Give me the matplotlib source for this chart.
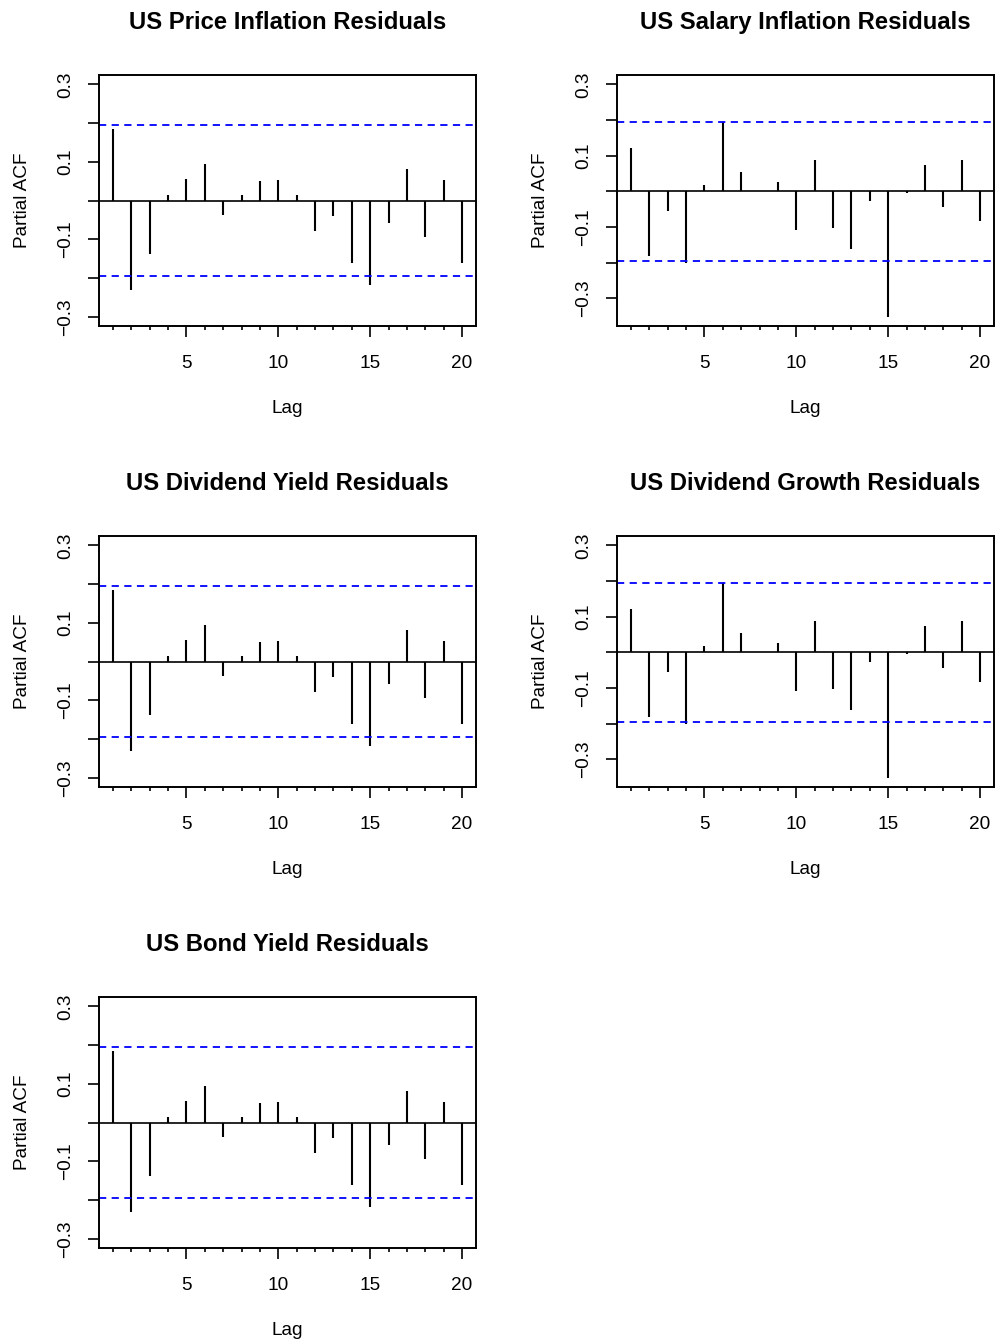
import matplotlib
matplotlib.use("Agg")
import matplotlib.pyplot as plt
import numpy as np

plt.rcParams['font.family'] = ['Liberation Sans', 'DejaVu Sans']

lags = list(range(1, 21))

titles = ["US Price Inflation Residuals", "US Salary Inflation Residuals",
          "US Dividend Yield Residuals", "US Dividend Growth Residuals",
          "US Bond Yield Residuals"]

pacf_price = [0.185, -0.232, -0.138, 0.015, 0.055, 0.094, -0.037, 0.014, 0.050, 0.053,
              0.015, -0.080, -0.041, -0.161, -0.217, -0.057, 0.082, -0.093, 0.054, -0.161]
pacf_salary = [0.122, -0.180, -0.054, -0.201, 0.017, 0.194, 0.055, 0.002, 0.026, -0.108,
               0.087, -0.103, -0.160, -0.027, -0.351, -0.004, 0.075, -0.044, 0.089, -0.083]
pacf_div_yield = [0.185, -0.232, -0.138, 0.015, 0.055, 0.094, -0.037, 0.014, 0.050, 0.053,
                  0.015, -0.080, -0.041, -0.161, -0.217, -0.057, 0.082, -0.093, 0.054, -0.161]
pacf_div_growth = [0.122, -0.180, -0.054, -0.201, 0.017, 0.194, 0.055, 0.002, 0.026, -0.108,
                   0.087, -0.103, -0.160, -0.027, -0.351, -0.004, 0.075, -0.044, 0.089, -0.083]
pacf_bond = [0.185, -0.232, -0.138, 0.015, 0.055, 0.094, -0.037, 0.014, 0.050, 0.053,
             0.015, -0.080, -0.041, -0.161, -0.217, -0.057, 0.082, -0.093, 0.054, -0.161]

conf_limits = [0.196, 0.194, 0.196, 0.194, 0.196]
series = [pacf_price, pacf_salary, pacf_div_yield, pacf_div_growth, pacf_bond]

W, H = 997, 1342
fig = plt.figure(figsize=(W / 100, H / 100), dpi=100)

# axes boxes in pixels: (left, top, right, bottom)
boxes = [(99, 75, 476, 326), (617, 75, 994, 326),
         (99, 536, 476, 787), (617, 536, 994, 787),
         (99, 997, 476, 1248)]

AX_FS = 13.7
TITLE_FS = 17.2

for (l, t, r, b), title, vals, conf in zip(boxes, titles, series, conf_limits):
    ax = fig.add_axes([l / W, 1 - b / H, (r - l) / W, (b - t) / H])
    x = np.array(lags)
    y = np.array(vals)
    ax.vlines(x, 0, y, color='black', lw=1.5)
    ax.axhline(0, color='black', lw=1.2)
    ax.axhline(conf, color='blue', lw=1.3, ls=(0, (4, 3)))
    ax.axhline(-conf, color='blue', lw=1.3, ls=(0, (4, 3)))

    x0, x1 = min(lags), max(lags)
    dx = (x1 - x0) * 0.04
    ax.set_xlim(x0 - dx, x1 + dx)
    y0 = min(-0.3, y.min(), -conf)
    y1 = max(0.3, y.max(), conf)
    dy = (y1 - y0) * 0.04
    ax.set_ylim(y0 - dy, y1 + dy)

    ax.set_xticks([5, 10, 15, 20])
    ax.set_xticks(lags, minor=True)
    ax.set_xticklabels(['5', '10', '15', '20'])
    yt = [-0.3, -0.2, -0.1, 0.0, 0.1, 0.2, 0.3]
    ax.set_yticks(yt)
    ax.set_yticklabels(['\u22120.3', '', '\u22120.1', '', '0.1', '', '0.3'])

    ax.tick_params(axis='x', which='major', length=8, width=1.2, pad=13,
                   labelsize=AX_FS, direction='out')
    ax.tick_params(axis='x', which='minor', length=3.2, width=1.2, direction='out')
    ax.tick_params(axis='y', which='major', length=8, width=1.2, pad=10,
                   labelsize=AX_FS, direction='out', labelrotation=90)
    for lab in ax.get_yticklabels():
        lab.set_va('center')

    for s in ax.spines.values():
        s.set_linewidth(1.4)

    ax.set_xlabel('Lag', fontsize=AX_FS, labelpad=20.3)
    ax.set_ylabel('Partial ACF', fontsize=AX_FS, labelpad=18.5)
    ax.set_title(title, fontsize=TITLE_FS, fontweight='bold', pad=33)

fig.savefig('out.png', dpi=100)
